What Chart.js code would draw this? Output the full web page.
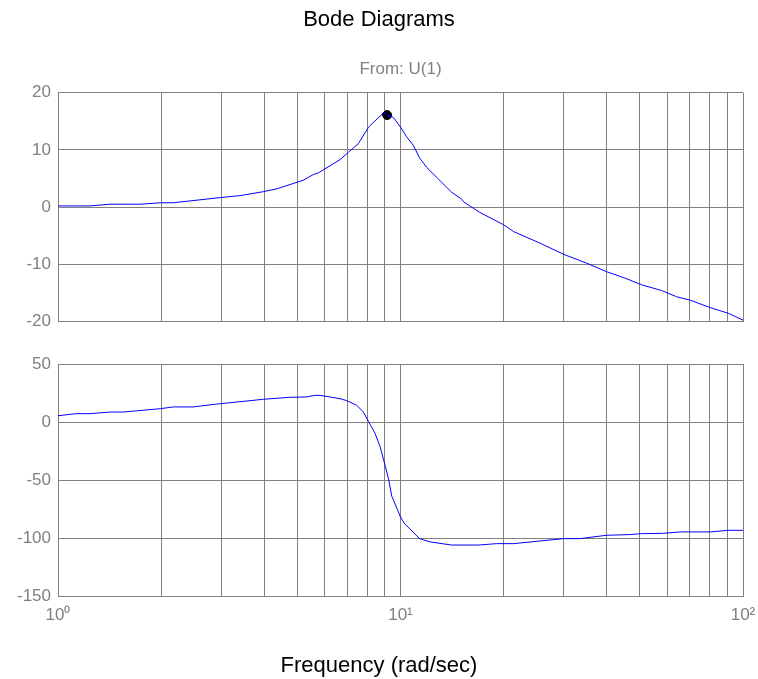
<!DOCTYPE html>
<html>
<head>
<meta charset="utf-8">
<title>Bode Diagrams</title>
<script src="https://cdn.jsdelivr.net/npm/chart.js@4.4.1/dist/chart.umd.min.js"></script>
<style>
  html, body { margin: 0; padding: 0; background: #fff; }
  canvas { display: block; }
</style>
</head>
<body>
<canvas id="magChart" width="758" height="340"></canvas>
<canvas id="phaseChart" width="758" height="339"></canvas>
<script>
// magnitude (dB) vs frequency (rad/sec)
const magFreq = [1, 1.24, 1.42, 1.74, 1.99, 2.17, 2.97, 3.4, 3.98, 4.36, 5.2, 5.57, 5.76, 6.66, 7.05, 7.53, 8.07, 8.92, 9.14, 9.53, 10.0, 10.42, 10.9, 11.37, 11.94, 13.05, 14.1, 15.07, 15.3, 17.0, 20.0, 21.4, 25.5, 30.0, 34.9, 39.9, 45.5, 50.5, 57.8, 64, 70.1, 80.2, 90.6, 100];
const magValues = [0.2, 0.2, 0.5, 0.5, 0.75, 0.75, 1.65, 2.0, 2.7, 3.2, 4.7, 5.7, 6.0, 8.3, 9.6, 11.1, 14.0, 16.5, 16.1, 15.7, 14.0, 12.3, 10.8, 8.6, 6.9, 4.6, 2.6, 1.4, 0.9, -0.9, -3.1, -4.3, -6.3, -8.3, -9.8, -11.3, -12.5, -13.6, -14.6, -15.7, -16.3, -17.6, -18.6, -19.8];

// phase (deg) vs frequency
const phaseFreq = [1, 1.13, 1.24, 1.42, 1.55, 1.99, 2.17, 2.48, 2.97, 3.4, 3.98, 4.76, 5.32, 5.63, 5.82, 6.66, 6.97, 7.45, 7.79, 8.07, 8.43, 8.72, 9.01, 9.22, 9.43, 10.0, 10.27, 11.37, 12.2, 14.1, 16.9, 19.1, 21.4, 25.5, 30.0, 33.4, 39.9, 46.7, 50.5, 58.6, 65.6, 80.2, 90.6, 100];
const phaseValues = [5.4, 7.2, 7.2, 8.6, 8.6, 11.5, 13, 13, 15.8, 17.5, 19.6, 21.3, 21.6, 23, 23, 20.1, 18.4, 14.4, 8.6, 0.3, -9.8, -21.3, -37.1, -48.6, -63.9, -81.8, -87.5, -100.5, -103.3, -106, -106, -104.8, -104.8, -102.5, -100.5, -100.5, -97.6, -97, -96.2, -95.9, -94.7, -94.7, -93.3, -93.3];

// peak marker
const peakFreq = [9.14];
const peakMag = [16.1];

// axis ticks
const xTickValues = [1, 2, 3, 4, 5, 6, 7, 8, 9, 10, 20, 30, 40, 50, 60, 70, 80, 90, 100];
const xTickLabels = { 1: '10\u2070', 10: '10\u00b9', 100: '10\u00b2' };
const magTicks = [-20, -10, 0, 10, 20];
const phaseTicks = [-150, -100, -50, 0, 50];

const FONT = "'Liberation Sans', Arial, sans-serif";
const GRID = '#808080';
const TICK_COLOR = '#808080';

function toPoints(xs, ys){
  return xs.map((x, i) => ({ x, y: ys[i] }));
}

// log frequency axis, same grid for both panels
function xScale(showLabels, height){
  return {
    type: 'logarithmic',
    min: 1,
    max: 100,
    afterBuildTicks: s => { s.ticks = xTickValues.map(v => ({ value: v })); },
    afterFit: s => { s.height = height; s.paddingLeft = 0; s.paddingRight = 0; },
    grid: { color: GRID, lineWidth: 1, drawTicks: false },
    border: { color: GRID },
    ticks: {
      display: showLabels,
      autoSkip: false,
      maxRotation: 0,
      padding: 9,
      color: TICK_COLOR,
      font: { family: FONT, size: 17 },
      callback: v => xTickLabels[v] || ''
    }
  };
}

function yScale(ticks){
  return {
    min: ticks[0],
    max: ticks[ticks.length - 1],
    afterBuildTicks: s => { s.ticks = ticks.map(v => ({ value: v })); },
    afterFit: s => { s.width = 58; },
    grid: { color: GRID, lineWidth: 1, drawTicks: false },
    border: { color: GRID },
    ticks: {
      padding: 7,
      color: TICK_COLOR,
      font: { family: FONT, size: 17 }
    }
  };
}

// empty strip on the right so titles stay centred on the whole page
const rightGap = {
  position: 'right',
  afterFit: s => { s.width = 15; },
  grid: { display: false },
  border: { display: false },
  ticks: { display: false }
};

const lineStyle = {
  borderColor: '#0000ff',
  borderWidth: 1,
  pointRadius: 0,
  tension: 0,
  fill: false
};

// top: magnitude
new Chart(document.getElementById('magChart'), {
  type: 'line',
  data: {
    datasets: [
      Object.assign({ label: 'Magnitude', data: toPoints(magFreq, magValues) }, lineStyle),
      {
        label: 'Peak',
        data: toPoints(peakFreq, peakMag),
        showLine: false,
        pointRadius: 4.5,
        pointBackgroundColor: '#000',
        pointBorderColor: '#000'
      }
    ]
  },
  options: {
    responsive: false,
    animation: false,
    layout: { padding: 0 },
    plugins: {
      legend: { display: false },
      tooltip: { enabled: false },
      title: {
        display: true,
        text: 'Bode Diagrams',
        color: '#000',
        font: { family: FONT, size: 22, weight: 'normal' },
        padding: { top: 7, bottom: 26 }
      },
      subtitle: {
        display: true,
        text: 'From: U(1)',
        fullSize: false,
        color: TICK_COLOR,
        font: { family: FONT, size: 17 },
        padding: { top: 0, bottom: 13 }
      }
    },
    scales: {
      x: xScale(false, 18.7),
      y: yScale(magTicks),
      gap: rightGap
    }
  }
});

// bottom: phase
new Chart(document.getElementById('phaseChart'), {
  type: 'line',
  data: {
    datasets: [
      Object.assign({ label: 'Phase', data: toPoints(phaseFreq, phaseValues) }, lineStyle)
    ]
  },
  options: {
    responsive: false,
    animation: false,
    layout: { padding: { left: 0, right: 0, top: 24, bottom: 0 } },
    plugins: {
      legend: { display: false },
      tooltip: { enabled: false },
      title: {
        display: true,
        position: 'bottom',
        text: 'Frequency (rad/sec)',
        color: '#000',
        font: { family: FONT, size: 22, weight: 'normal' },
        padding: { top: 21, bottom: 0 }
      }
    },
    scales: {
      x: xScale(true, 35.5),
      y: yScale(phaseTicks),
      gap: rightGap
    }
  }
});
</script>
</body>
</html>
